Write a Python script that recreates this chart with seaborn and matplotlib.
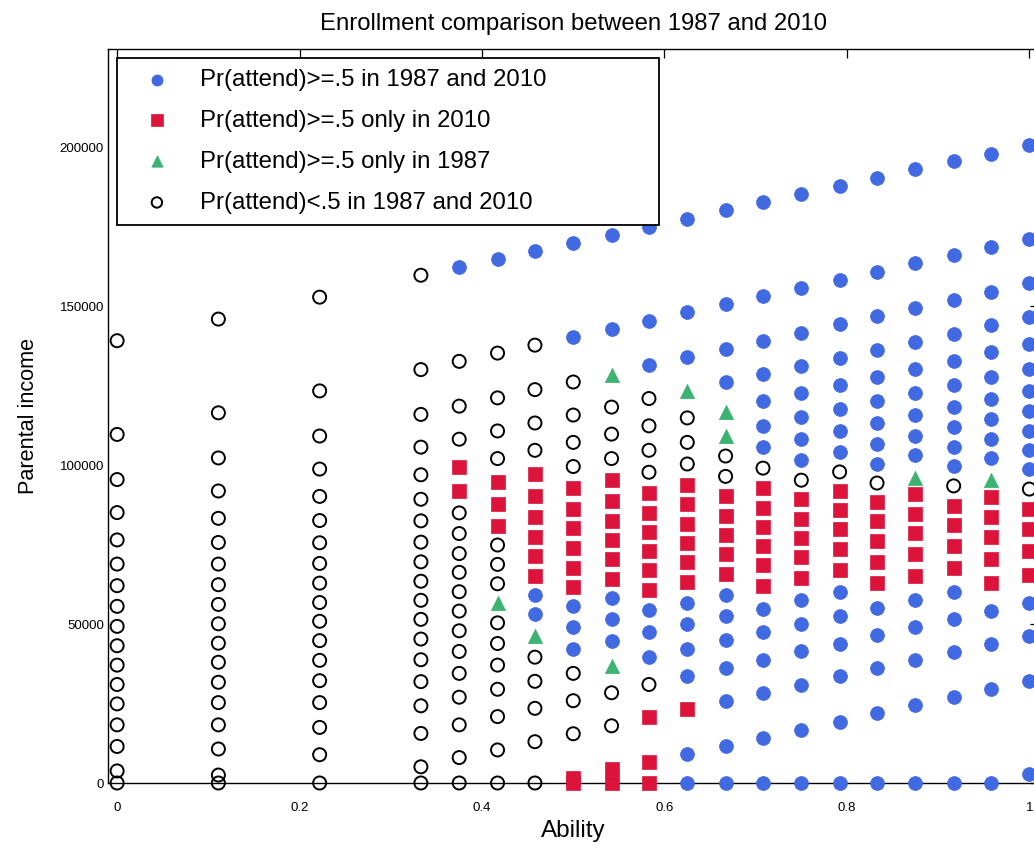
import matplotlib
matplotlib.use("Agg")
import matplotlib.pyplot as plt
import seaborn as sns
import pandas as pd

# ---- data ----
ABILITY = [0.0, 0.111, 0.222, 0.333, 0.375, 0.417, 0.458, 0.5, 0.542, 0.583,
           0.625, 0.667, 0.708, 0.75, 0.792, 0.833, 0.875, 0.917, 0.958, 1.0]

# b = Pr>=.5 both years, r = only 2010, g = only 1987, o = neither
c00 = {"o": [139200, 109700, 95500, 85100, 76500, 68900, 62100, 55600, 49300, 43200,
             37100, 31000, 24900, 18300, 11500, 3800, 0]}
c01 = {"o": [146000, 116500, 102300, 91900, 83300, 75700, 68900, 62400, 56200, 50100,
             44000, 38000, 31700, 25300, 18300, 10700, 2500, 0]}
c02 = {"o": [152900, 123400, 109200, 98800, 90200, 82600, 75600, 69100, 62900, 56800,
             50900, 44800, 38600, 32200, 25300, 17500, 8900, 0]}
c03 = {"o": [159800, 130100, 116000, 105700, 97000, 89300, 82500, 75800, 69600, 63500,
             57500, 51500, 45300, 38800, 31900, 24300, 15600, 5100, 0]}
c04 = {"b": [162400], "r": [99500, 91900],
       "o": [132700, 118600, 108200, 85000, 78500, 72200, 66300, 60200, 54100, 47900,
             41400, 34500, 27000, 18300, 8000, 0]}
c05 = {"b": [165000], "r": [94600, 87700, 81000], "g": [56500],
       "o": [135300, 121200, 110800, 102100, 74900, 68800, 62700, 50400, 43900, 37100,
             29500, 20900, 10400, 0]}
c06 = {"b": [167400, 59300, 53100], "r": [97100, 90200, 83700, 77500, 71400, 65300],
       "g": [46300], "o": [137800, 123800, 113300, 104700, 39600, 32000, 23500, 13000, 0]}
c07 = {"b": [170100, 140400, 55600, 49100, 42200],
       "r": [92700, 86200, 80100, 73900, 67800, 61700, 1500, 0],
       "o": [126200, 115800, 107200, 99600, 34500, 25900, 15500]}
c08 = {"b": [172600, 142900, 58100, 51600, 44800],
       "r": [95300, 88800, 82600, 76400, 70400, 64300, 4300, 0],
       "g": [128500, 36900], "o": [118300, 109800, 102100, 28400, 18000]}
c09 = {"b": [175000, 145500, 131500, 54300, 47400, 39700],
       "r": [91300, 85100, 79000, 73000, 66900, 60700, 20700, 6500, 0],
       "o": [121000, 112400, 104700, 97800, 31000]}
c10 = {"b": [177600, 148100, 134000, 56800, 49900, 42200, 33700, 9100, 0],
       "r": [93900, 87700, 81600, 75500, 69400, 63200, 23200],
       "g": [123300], "o": [114900, 107200, 100400]}
c11 = {"b": [180200, 150600, 136500, 126100, 59300, 52400, 44900, 36300, 25800, 11700, 0],
       "r": [90200, 84100, 78100, 72000, 65800], "g": [116700, 109100], "o": [102900, 96500]}
c12 = {"b": [182800, 153300, 139100, 128700, 120100, 112500, 105600, 54900, 47400, 38800,
             28400, 14200, 0],
       "r": [92700, 86600, 80600, 74600, 68500, 62000], "o": [99100]}
c13 = {"b": [185500, 155900, 141700, 131200, 122700, 115100, 108200, 101600, 57600, 50000,
             41400, 30900, 16800, 0],
       "r": [89300, 83200, 77100, 71000, 64600], "o": [95300]}
c14 = {"b": [187900, 158400, 144300, 133800, 125200, 117600, 110700, 104200, 60200, 52500,
             43900, 33600, 19300, 0],
       "r": [91900, 85900, 79800, 73600, 67100], "o": [97900]}
c15 = {"b": [190500, 160900, 146900, 136400, 127800, 120200, 113300, 106800, 100500, 55100,
             46500, 36100, 21900, 0],
       "r": [88500, 82400, 76100, 69600, 62800], "o": [94400]}
c16 = {"b": [193100, 163500, 149400, 138900, 130300, 122700, 115700, 109200, 103200, 57600,
             49000, 38600, 24400, 0],
       "r": [91000, 84800, 78600, 72100, 65200], "g": [96100]}
c17 = {"b": [195600, 166200, 151900, 141400, 132800, 125200, 118300, 111900, 105800, 99700,
             60200, 51600, 41100, 27000, 0],
       "r": [87300, 81100, 74600, 67700], "o": [93500]}
c18 = {"b": [198100, 168700, 154400, 144100, 135600, 127900, 121000, 114500, 108300, 102200,
             54200, 43800, 29700, 0],
       "r": [90000, 83800, 77300, 70400, 62800], "g": [95300]}
c19 = {"b": [200700, 171200, 157200, 146700, 138100, 130400, 123500, 117000, 110800, 104700,
             98700, 56700, 46300, 32100, 2800],
       "r": [86300, 79800, 73100, 65400], "o": [92500]}

COLUMNS = [c00, c01, c02, c03, c04, c05, c06, c07, c08, c09,
           c10, c11, c12, c13, c14, c15, c16, c17, c18, c19]

LABELS = {
    "b": "Pr(attend)>=.5 in 1987 and 2010",
    "r": "Pr(attend)>=.5 only in 2010",
    "g": "Pr(attend)>=.5 only in 1987",
    "o": "Pr(attend)<.5 in 1987 and 2010",
}
XTICKS = [0, 0.2, 0.4, 0.6, 0.8, 1]
XTICKLABELS = ["0", "0.2", "0.4", "0.6", "0.8", "1"]
YTICKS = [0, 50000, 100000, 150000, 200000]
YTICKLABELS = ["0", "50000", "100000", "150000", "200000"]

rows = []
for a, col in zip(ABILITY, COLUMNS):
    for code, vals in col.items():
        for v in vals:
            rows.append({"Ability": a, "Income": v, "cat": code})
df = pd.DataFrame(rows)

# ---- style ----
sns.set_theme(style="white")
plt.rcParams["font.family"] = ["Liberation Sans", "DejaVu Sans"]
plt.rcParams["text.color"] = "black"
plt.rcParams["axes.labelcolor"] = "black"
plt.rcParams["xtick.color"] = "black"
plt.rcParams["ytick.color"] = "black"

W, H = 1034, 850
fig = plt.figure(figsize=(W / 100, H / 100), dpi=100)
ax = fig.add_axes([108 / W, (H - 783) / H, (1038.5 - 108) / W, (783 - 49) / H])

styles = {
    "b": dict(marker="o", s=100, color="#4169E1", edgecolor="#4169E1", linewidth=0.5),
    "r": dict(marker="s", s=105, color="#DC143C", edgecolor="#DC143C", linewidth=0.5),
    "g": dict(marker="^", s=105, color="#3CB371", edgecolor="#3CB371", linewidth=0.5),
    "o": dict(marker="o", s=88, facecolor="none", edgecolor="black", linewidth=1.4),
}
for code in ["b", "r", "g", "o"]:
    sub = df[df["cat"] == code]
    sns.scatterplot(data=sub, x="Ability", y="Income", ax=ax, label=LABELS[code],
                    clip_on=False, zorder=3, **styles[code])

ax.set_xlim(-0.01, 1.01)
ax.set_ylim(0, 231000)
ax.set_xticks(XTICKS)
ax.set_xticklabels(XTICKLABELS)
ax.set_yticks(YTICKS)
ax.set_yticklabels(YTICKLABELS)
ax.tick_params(direction="in", top=True, right=True, length=6.5, width=0.9,
               colors="black", labelsize=9.5)
ax.tick_params(axis="x", pad=14)
ax.tick_params(axis="y", pad=3)
for sp in ax.spines.values():
    sp.set_color("black")
    sp.set_linewidth(1.0)

ax.set_xlabel("Ability", fontsize=17.5, color="black", labelpad=4)
ax.set_ylabel("Parental income", fontsize=15.6, color="black", labelpad=15)
ax.set_title("Enrollment comparison between 1987 and 2010", fontsize=17.2,
             color="black", pad=14)

leg = ax.legend(loc="upper left",
                bbox_to_anchor=(117 / W, (H - 221) / H, (659 - 117) / W, (221 - 58) / H),
                bbox_transform=fig.transFigure, mode="expand",
                fontsize=17.3, frameon=True, fancybox=False, framealpha=1,
                edgecolor="black", borderpad=0.45, labelspacing=0.79,
                handlelength=2.42, handletextpad=0.575, borderaxespad=0,
                markerscale=0.8)
leg.get_frame().set_linewidth(1.3)
leg.set_zorder(5)
for t in leg.get_texts():
    t.set_color("black")

fig.savefig("out.png", dpi=100)
